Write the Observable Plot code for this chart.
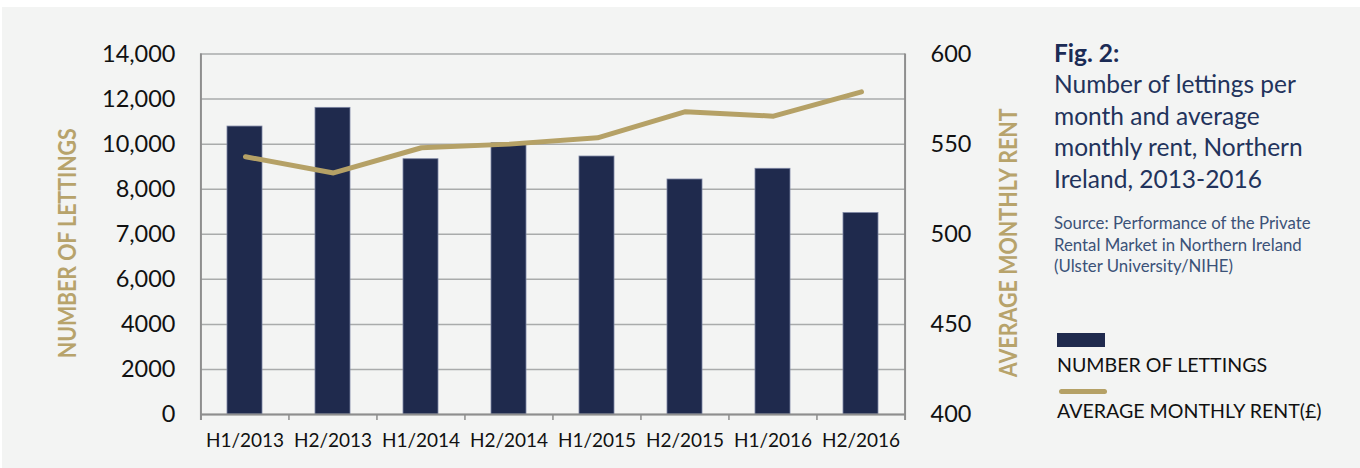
<!DOCTYPE html>
<html><head><meta charset="utf-8">
<script src="https://cdn.jsdelivr.net/npm/d3@7"></script>
<script src="https://cdn.jsdelivr.net/npm/@observablehq/plot@0.6"></script>
<style>
body{margin:0;background:#fff;width:1360px;height:468px;overflow:hidden;position:relative;font-family:Lato,sans-serif}
#panel{position:absolute;left:2px;top:7px;width:1358px;height:461px;background:#f3f4f3}
.layer{position:absolute;left:0;top:0}
#title{position:absolute;left:1052px;top:29.8px;font-size:24.5px;line-height:31.5px;color:#22335c;white-space:nowrap}
#title b{color:#1b2b55}
#source{position:absolute;left:1052px;top:205.3px;font-size:16.8px;line-height:21.2px;color:#3b5278;white-space:nowrap}
.legtext{position:absolute;left:1055px;font-size:19.6px;line-height:19.6px;color:#111;white-space:nowrap}
#swBar{position:absolute;left:1055px;top:326px;width:48px;height:14px;background:#1f2a4d}
#swLine{position:absolute;left:1057px;top:381.5px;width:48px;height:5px;border-radius:2.5px;background:#b5a166}
</style></head><body>
<div id="panel">
  <div id="bars" class="layer"></div>
  <div id="rentLayer" class="layer"></div>
  <div id="title"><b>Fig. 2:</b><br>Number of lettings per<br>month and average<br>monthly rent, Northern<br>Ireland, 2013-2016</div>
  <div id="source">Source: Performance of the Private<br>Rental Market in Northern Ireland<br>(Ulster University/NIHE)</div>
  <div id="swBar"></div>
  <div class="legtext" style="top:347.7px">NUMBER OF LETTINGS</div>
  <div id="swLine"></div>
  <div class="legtext" style="top:393.7px">AVERAGE MONTHLY RENT(£)</div>
</div>
<script>
const periods = ["H1/2013","H2/2013","H1/2014","H2/2014","H1/2015","H2/2015","H1/2016","H2/2016"];
const lettings = [10780, 11610, 9330, 10040, 9450, 8430, 8905, 7470];
const rent = [543, 534, 548, 550, 553.5, 568, 565.5, 579];
const lettingTicks = [0, 2000, 4000, 6000, 7000, 8000, 10000, 12000, 14000];
const lettingTickLabels = ["0", "2000", "4000", "6,000", "7,000", "8,000", "10,000", "12,000", "14,000"];
const rentTicks = [400, 450, 500, 550, 600];
const yTitle = "NUMBER OF LETTINGS";
const y2Title = "AVERAGE MONTHLY RENT";

const data = periods.map((p, i) => ({period: p, lettings: lettings[i], rent: rent[i]}));

const W = 1040, H = 461, mL = 198, mR = 137, mT = 46.5, mB = 54;
const step = (W - mL - mR) / periods.length;
const frameH = H - mT - mB;
const gold = "#b5a166", titleGold = "#b7a36b", navy = "#1f2a4d", axisGray = "#8e8e8e";

function condense(svg, label, length) {
  d3.select(svg).selectAll("text")
    .filter(function () { return this.textContent === label; })
    .attr("textLength", length)
    .attr("lengthAdjust", "spacingAndGlyphs");
}

const bars = Plot.plot({
  width: W, height: H, marginLeft: mL, marginRight: mR, marginTop: mT, marginBottom: mB,
  style: {background: "transparent", fontFamily: "Lato, sans-serif", color: "#111"},
  x: {type: "band", domain: periods, paddingInner: 0.6, paddingOuter: 0.3, axis: null},
  y: {type: "linear", domain: lettingTicks, axis: null},
  marks: [
    Plot.gridY(lettingTicks, {stroke: "#a9abab", strokeOpacity: 1, strokeWidth: 1.5}),
    Plot.barY(data, {x: "period", y: "lettings", fill: navy, stroke: "#7c84a2", strokeWidth: 0.8}),
    Plot.ruleY([0], {stroke: axisGray, strokeWidth: 2}),
    Plot.ruleX(periods, {dx: -step / 2, insetTop: frameH, insetBottom: -6, stroke: axisGray, strokeWidth: 1.5}),
    Plot.ruleX([periods[0]], {dx: -step / 2, insetBottom: -6, stroke: axisGray, strokeWidth: 2}),
    Plot.ruleX([periods[periods.length - 1]], {dx: step / 2, insetBottom: -6, stroke: axisGray, strokeWidth: 2}),
    Plot.axisY(lettingTicks, {tickSize: 0, tickPadding: 25, fontSize: 23.5, label: null,
      tickFormat: d => lettingTickLabels[lettingTicks.indexOf(d)]}),
    Plot.axisX(periods, {tickSize: 0, tickPadding: 19, fontSize: 19, label: null}),
    Plot.text([yTitle], {frameAnchor: "left", textAnchor: "middle", lineAnchor: "middle", dx: -133, dy: 9,
      rotate: -90, fill: titleGold, fontWeight: "bold", fontSize: 25, fontFamily: "Lato, sans-serif"})
  ]
});
condense(bars, yTitle, 230);
document.getElementById("bars").append(bars);

const lineChart = Plot.plot({
  width: W, height: H, marginLeft: mL, marginRight: mR, marginTop: mT, marginBottom: mB,
  style: {background: "transparent", fontFamily: "Lato, sans-serif", color: "#111"},
  x: {type: "point", domain: periods, padding: 0.5, axis: null},
  y: {domain: [rentTicks[0], rentTicks[rentTicks.length - 1]], axis: null},
  marks: [
    Plot.line(data, {x: "period", y: "rent", stroke: gold, strokeWidth: 5, strokeLinecap: "round", strokeLinejoin: "round"}),
    Plot.axisY(rentTicks, {anchor: "right", tickSize: 0, tickPadding: 25, fontSize: 23.5, label: null}),
    Plot.text([y2Title], {frameAnchor: "right", textAnchor: "middle", lineAnchor: "middle", dx: 103, dy: 8.5,
      rotate: -90, fill: titleGold, fontWeight: "bold", fontSize: 25, fontFamily: "Lato, sans-serif"})
  ]
});
condense(lineChart, y2Title, 269);
document.getElementById("rentLayer").append(lineChart);
</script>
</body></html>
